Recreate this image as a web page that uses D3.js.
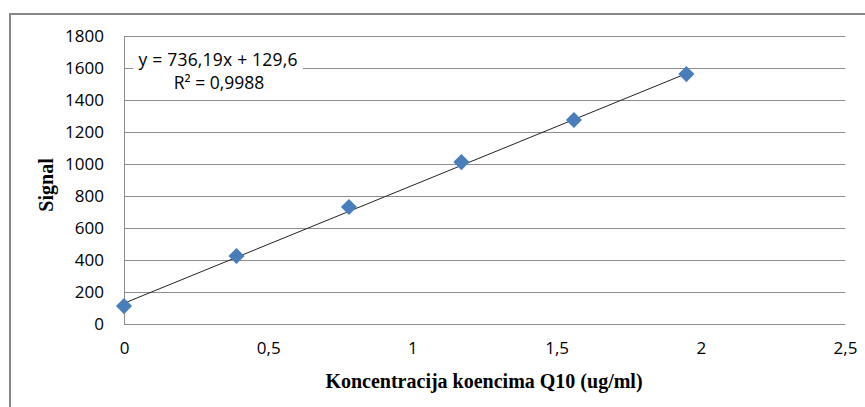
<!DOCTYPE html>
<meta charset="utf-8">
<script src="https://d3js.org/d3.v7.min.js"></script>
<style>
  body { margin: 0; background: #fff; }
  svg { display: block; }
</style>
<div id="chart"></div>
<script>
// data
var concentration = [0, 0.39, 0.78, 1.17, 1.56, 1.95];
var signal = [112, 425, 731, 1012, 1275, 1562];
var xTicks = [0, 0.5, 1, 1.5, 2, 2.5];
var yTicks = [0, 200, 400, 600, 800, 1000, 1200, 1400, 1600, 1800];
var slope = 736.19, intercept = 129.6;
var eqLabel = "y = 736,19x + 129,6";
var r2Label = "R² = 0,9988";

var W = 865, H = 407;
var margin = {top: 36, right: 20, bottom: 83, left: 124},
    width = 845 - margin.left,
    height = 324 - margin.top;

var svg = d3.select("#chart").append("svg")
    .attr("width", W)
    .attr("height", H);

// outer chart border
svg.append("rect")
    .attr("x", 10).attr("y", 14)
    .attr("width", 870).attr("height", 420)
    .attr("fill", "#fff")
    .attr("stroke", "#878787")
    .attr("stroke-width", 2);

var g = svg.append("g")
    .attr("transform", "translate(" + margin.left + "," + margin.top + ")");

var x = d3.scaleLinear().domain([0, 2.5]).range([0, width]);
var y = d3.scaleLinear().domain([0, 1800]).range([height, 0]);

var fmt = function(d) { return String(d).replace(".", ","); };

// gridlines
g.selectAll(".grid")
  .data(yTicks)
  .enter().append("line")
    .attr("x1", 0).attr("x2", width)
    .attr("y1", function(d) { return Math.round(y(d)) + 0.5; })
    .attr("y2", function(d) { return Math.round(y(d)) + 0.5; })
    .attr("stroke", "#8c8c8c")
    .attr("stroke-width", 1);

// y axis line
g.append("line")
    .attr("x1", 0.5).attr("x2", 0.5)
    .attr("y1", 0).attr("y2", height)
    .attr("stroke", "#8c8c8c");

// y axis
var yAxis = g.append("g")
    .call(d3.axisLeft(y).tickValues(yTicks).tickSize(0).tickPadding(20).tickFormat(fmt));
yAxis.select(".domain").remove();
yAxis.selectAll("text")
    .style("font-family", "'Open Sans', sans-serif")
    .style("font-size", "17px")
    .attr("fill", "#000");

// x axis
var xAxis = g.append("g")
    .attr("transform", "translate(0," + height + ")")
    .call(d3.axisBottom(x).tickValues(xTicks).tickSize(0).tickPadding(18).tickFormat(fmt));
xAxis.select(".domain").remove();
xAxis.selectAll("text")
    .style("font-family", "'Open Sans', sans-serif")
    .style("font-size", "17px")
    .attr("fill", "#000");

// trendline
g.append("line")
    .attr("x1", x(0)).attr("y1", y(intercept))
    .attr("x2", x(d3.max(concentration))).attr("y2", y(slope * d3.max(concentration) + intercept))
    .attr("stroke", "#222")
    .attr("stroke-width", 1);

// points
g.selectAll(".pt")
  .data(concentration)
  .enter().append("path")
    .attr("d", d3.symbol().type(d3.symbolSquare).size(130))
    .attr("transform", function(d, i) { return "translate(" + x(d) + "," + y(signal[i]) + ") rotate(45)"; })
    .attr("fill", "#4a7ebb");

// equation label
svg.append("rect")
    .attr("x", 133).attr("y", 47)
    .attr("width", 170).attr("height", 47)
    .attr("fill", "#fff");
svg.append("text")
    .attr("x", 218).attr("y", 66)
    .attr("text-anchor", "middle")
    .style("font-family", "'Open Sans', sans-serif")
    .style("font-size", "17.5px")
    .attr("textLength", 159)
    .text(eqLabel);
svg.append("text")
    .attr("x", 219).attr("y", 89)
    .attr("text-anchor", "middle")
    .style("font-family", "'Open Sans', sans-serif")
    .style("font-size", "17.5px")
    .text(r2Label);

// axis titles
svg.append("text")
    .attr("x", 484).attr("y", 388)
    .attr("text-anchor", "middle")
    .style("font-family", "'Liberation Serif', serif")
    .style("font-weight", "bold")
    .style("font-size", "20px")
    .text("Koncentracija koencima Q10 (ug/ml)");
svg.append("text")
    .attr("transform", "translate(53,185) rotate(-90)")
    .attr("text-anchor", "middle")
    .style("font-family", "'Liberation Serif', serif")
    .style("font-weight", "bold")
    .style("font-size", "20px")
    .text("Signal");
</script>
